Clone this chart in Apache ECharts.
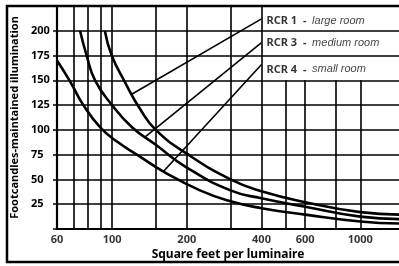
<!DOCTYPE html>
<html>
<head>
<meta charset="utf-8">
<script src="https://cdn.jsdelivr.net/npm/echarts@6/dist/echarts.min.js"></script>
<style>html,body{margin:0;padding:0;background:#fff}#c{width:399px;height:266px}</style>
</head>
<body>
<div id="c"></div>
<script>
// ---- data ----
const rcr1Sqft = [93.5, 99.7, 112.8, 129.7, 150, 200, 300, 400, 600, 1000, 1432];
const rcr1Fc   = [200, 175, 148, 121, 100, 76, 50, 38, 27, 17, 14.5];
const rcr3Sqft = [74.3, 79, 85.4, 100, 120, 150, 200, 300, 400, 600, 1000, 1432];
const rcr3Fc   = [200, 175, 150, 125, 103, 85, 62, 39, 31, 22.5, 12.5, 10];
const rcr4Sqft = [60, 67.7, 76.6, 90, 105, 127.7, 161, 226, 300, 400, 600, 1000, 1432];
const rcr4Fc   = [170, 149, 125, 102, 88, 74, 58, 39, 28, 21, 14.5, 7.5, 5.5];

const xTickLabels = [60, 100, 200, 400, 600, 1000];
const xGridFull = [70, 80, 90, 100, 150, 200, 300, 400];
const xGridShort = [500, 600, 800, 1000];
const xGridShortTop = 150;

const legendNames = ['RCR 1', 'RCR 3', 'RCR 4'];
const legendDescs = ['large room', 'medium room', 'small room'];
const leaderStarts = [[120, 136], [136, 93], [161, 58]];
const leaderEnds = [[400, 212], [400, 188], [400, 166]];
const legendPos = [[400, 210], [400, 187.5], [400, 161]];

const xMin = 60, xMax = 1432, yMin = 0, yMax = 225;

// ---- chart ----
const chart = echarts.init(document.getElementById('c'), null, {renderer: 'canvas'});
const font = 'Noto Sans';
const zip = (a, b) => a.map((v, i) => [v, b[i]]);
const curveStyle = {color: '#000', width: 2.6};

const gridLines = [];
xGridFull.forEach(v => gridLines.push([{coord: [v, yMin]}, {coord: [v, yMax]}]));
xGridShort.forEach(v => gridLines.push([{coord: [v, yMin]}, {coord: [v, xGridShortTop]}]));

const series = [
  {type: 'line', data: zip(rcr1Sqft, rcr1Fc), smooth: 0.5, symbol: 'none', lineStyle: curveStyle, silent: true,
   markLine: {silent: true, symbol: 'none', label: {show: false}, lineStyle: {color: '#000', width: 1.6, type: 'solid'}, data: gridLines}},
  {type: 'line', data: zip(rcr3Sqft, rcr3Fc), smooth: 0.5, symbol: 'none', lineStyle: curveStyle, silent: true},
  {type: 'line', data: zip(rcr4Sqft, rcr4Fc), smooth: 0.5, symbol: 'none', lineStyle: curveStyle, silent: true}
];
leaderStarts.forEach((s, i) => {
  series.push({type: 'line', data: [s, leaderEnds[i]], symbol: 'none', lineStyle: {color: '#000', width: 1.6}, silent: true});
});
series.push({
  type: 'scatter', symbolSize: 0, silent: true,
  data: xTickLabels.map(v => [v, yMin]),
  label: {show: true, position: 'bottom', distance: 5, formatter: p => String(p.value[0]),
          color: '#000', fontFamily: font, fontWeight: 'bold', fontSize: 11}
});
series.push({
  type: 'scatter', symbolSize: 0, silent: true,
  data: legendPos.map((p, i) => ({value: p, name: legendNames[i]})),
  label: {show: true, position: 'right', distance: 5,
    formatter: p => '{b|' + legendNames[p.dataIndex] + '}{d|  -  }{i|' + legendDescs[p.dataIndex] + '}',
    rich: {
      b: {fontFamily: font, fontWeight: 'bold', fontSize: 11, color: '#000'},
      d: {fontFamily: font, fontWeight: 'bold', fontSize: 11, color: '#000'},
      i: {fontFamily: 'Liberation Sans', fontStyle: 'italic', fontSize: 11, color: '#111'}
    }}
});

chart.setOption({
  animation: false,
  backgroundColor: '#fff',
  grid: {left: 57, top: 6, width: 342, height: 223},
  xAxis: {
    type: 'log', logBase: 10, min: xMin, max: xMax,
    name: 'Square feet per luminaire', nameLocation: 'middle', nameGap: 20,
    nameTextStyle: {color: '#000', fontFamily: font, fontWeight: 'bold', fontSize: 12},
    axisLine: {show: true, lineStyle: {color: '#000', width: 2}},
    axisTick: {show: false}, axisLabel: {show: false}, splitLine: {show: false}
  },
  yAxis: {
    type: 'value', min: yMin, max: yMax, interval: 25,
    name: 'Footcandles-maintained illumination', nameLocation: 'middle', nameGap: 27,
    nameTextStyle: {color: '#000', fontFamily: font, fontWeight: 'bold', fontSize: 11},
    axisLine: {show: true, lineStyle: {color: '#000', width: 2.2}},
    axisTick: {show: true, length: 4, lineStyle: {color: '#000', width: 1.5}},
    axisLabel: {color: '#000', fontFamily: font, fontWeight: 'bold', fontSize: 11, margin: 26, align: 'left',
      formatter: v => (v === 0 || v === 225) ? '' : String(v)},
    splitLine: {show: true, lineStyle: {color: '#000', width: 1.6}}
  },
  graphic: [{
    type: 'rect', shape: {x: 7, y: 6, width: 400, height: 256},
    style: {fill: 'none', stroke: '#000', lineWidth: 2.5}, silent: true
  }],
  series: series
});
</script>
</body>
</html>
